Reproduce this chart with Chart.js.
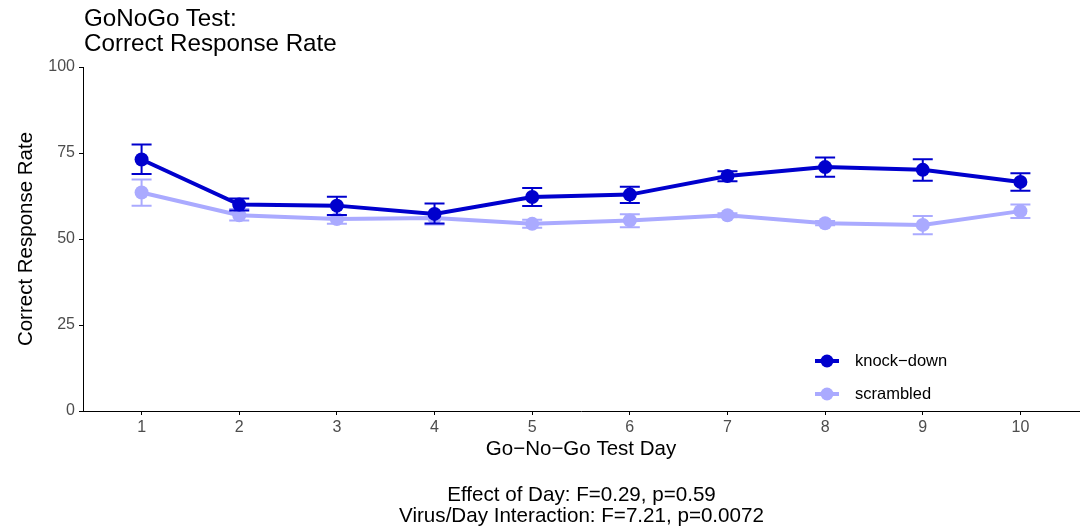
<!DOCTYPE html>
<html>
<head>
<meta charset="utf-8">
<script src="https://cdn.jsdelivr.net/npm/chart.js@4"></script>
<style>
  body { margin:0; background:#fff; font-family:"Liberation Sans", Arial, sans-serif; }
  #wrap { position:relative; width:1086px; height:531px; }
  #title { position:absolute; left:84px; top:5px; font-size:24.2px; line-height:25px; color:#000; }
  #caption { position:absolute; left:83px; width:997px; top:483px; text-align:center; font-size:20.6px; line-height:21px; color:#000; }
</style>
</head>
<body>
<div id="wrap">
  <canvas id="myChart" width="1086" height="531"></canvas>
  <div id="title">GoNoGo Test:<br>Correct Response Rate</div>
  <div id="caption">Effect of Day: F=0.29, p=0.59<br>Virus/Day Interaction: F=7.21, p=0.0072</div>
</div>
<script>
// data
const days = [1, 2, 3, 4, 5, 6, 7, 8, 9, 10]
const yTicks = [0, 25, 50, 75, 100]

const kdMean  = [73.1, 60.0, 59.7, 57.3, 62.2, 62.9, 68.3, 70.9, 70.1, 66.6]
const kdUpper = [77.5, 61.8, 62.3, 60.3, 64.8, 65.2, 69.7, 73.7, 73.2, 69.1]
const kdLower = [68.9, 58.3, 57.0, 54.5, 59.6, 60.5, 66.8, 68.1, 66.9, 64.0]

const scMean  = [63.5, 56.9, 55.8, 56.1, 54.4, 55.4, 56.9, 54.6, 54.1, 58.1]
const scUpper = [67.3, 58.7, 56.8, 57.6, 55.6, 57.2, 57.5, 55.2, 56.7, 60.0]
const scLower = [59.7, 55.4, 54.4, 54.2, 53.3, 53.4, 56.3, 54.0, 51.4, 56.1]

const kdColor = '#0000CD'
const scColor = '#AAAAFF'

function toPoints(vals){
    return days.map(function(d, i){ return {x: d, y: vals[i]} })
}

// error bars, drawn with the chart's own scales
const errorBars = {
    id: 'errorBars',
    beforeDatasetDraw(chart, args){
        const ds = chart.data.datasets[args.index]
        const xs = chart.scales.x, ys = chart.scales.y
        const ctx = chart.ctx
        ctx.save()
        ctx.strokeStyle = ds.borderColor
        ctx.lineWidth = 2
        days.forEach(function(d, i){
            const px = xs.getPixelForValue(d)
            const top = ys.getPixelForValue(ds.upper[i])
            const bot = ys.getPixelForValue(ds.lower[i])
            ctx.beginPath()
            ctx.moveTo(px, top); ctx.lineTo(px, bot)
            ctx.moveTo(px - 10, top); ctx.lineTo(px + 10, top)
            ctx.moveTo(px - 10, bot); ctx.lineTo(px + 10, bot)
            ctx.stroke()
        })
        ctx.restore()
    }
}

// legend inside the panel, lower right
const innerLegend = {
    id: 'innerLegend',
    afterDraw(chart){
        const ctx = chart.ctx
        ctx.save()
        chart.data.datasets.forEach(function(ds, i){
            const y = 361 + i * 33
            ctx.strokeStyle = ds.borderColor
            ctx.lineWidth = 4
            ctx.beginPath(); ctx.moveTo(815, y); ctx.lineTo(839, y); ctx.stroke()
            ctx.fillStyle = ds.borderColor
            ctx.beginPath(); ctx.arc(827, y, 6.5, 0, Math.PI * 2); ctx.fill()
            ctx.fillStyle = '#000'
            ctx.font = '16.5px "Liberation Sans", Arial, sans-serif'
            ctx.textBaseline = 'middle'
            ctx.fillText(ds.label, 855, y)
        })
        ctx.restore()
    }
}

const data = {
    datasets: [{
        label: 'knock\u2212down',
        data: toPoints(kdMean),
        upper: kdUpper,
        lower: kdLower,
        borderColor: kdColor,
        backgroundColor: kdColor,
        borderWidth: 4,
        pointRadius: 7,
        pointBorderWidth: 0
    }, {
        label: 'scrambled',
        data: toPoints(scMean),
        upper: scUpper,
        lower: scLower,
        borderColor: scColor,
        backgroundColor: scColor,
        borderWidth: 4,
        pointRadius: 7,
        pointBorderWidth: 0
    }]
}

const tickFont = {family: '"Liberation Sans", Arial, sans-serif', size: 16}
const titleFont = {family: '"Liberation Sans", Arial, sans-serif', size: 20.5}

const config = {
    type: 'line',
    data,
    plugins: [errorBars, innerLegend],
    options: {
        responsive: false,
        animation: false,
        layout: { padding: {top: 67, right: 6, bottom: 65, left: 0} },
        plugins: { legend: {display: false}, tooltip: {enabled: false} },
        scales: {
            x: {
                type: 'linear',
                min: 0.4,
                max: 10.6,
                afterBuildTicks: function(axis){ axis.ticks = days.map(function(d){ return {value: d} }) },
                afterFit: function(axis){ axis.height = 55 },
                grid: {drawOnChartArea: false, drawTicks: true, tickLength: 4, color: '#000'},
                border: {display: true, color: '#000', width: 1},
                ticks: {color: '#4D4D4D', font: tickFont, padding: 3, maxRotation: 0},
                title: {display: true, text: 'Go\u2212No\u2212Go Test Day', color: '#000', font: titleFont, padding: {top: 5}}
            },
            y: {
                min: 0,
                max: 100,
                afterBuildTicks: function(axis){ axis.ticks = yTicks.map(function(v){ return {value: v} }) },
                afterFit: function(axis){ axis.width = 83 },
                grid: {drawOnChartArea: false, drawTicks: true, tickLength: 4, color: '#000'},
                border: {display: true, color: '#000', width: 1},
                ticks: {color: '#4D4D4D', font: tickFont, padding: 4},
                title: {display: true, text: 'Correct Response Rate', color: '#000', font: titleFont, padding: {top: 14, bottom: 4}}
            }
        }
    }
}

let myChart = new Chart(document.getElementById('myChart'), config)
</script>
</body>
</html>
